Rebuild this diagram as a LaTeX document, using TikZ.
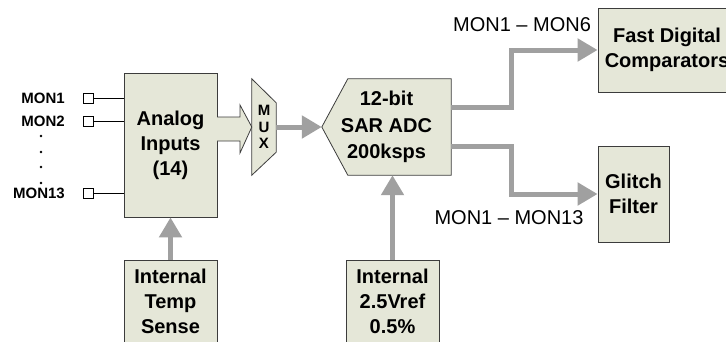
\documentclass[tikz,border=0pt]{standalone}
\usepackage{fontspec}
\setmainfont{Liberation Sans}
\usetikzlibrary{arrows.meta}
\definecolor{boxfill}{RGB}{229,231,216}
\definecolor{boxline}{RGB}{60,60,60}
\definecolor{flowgray}{RGB}{160,160,160}
\begin{document}
\begin{tikzpicture}[x=1pt,y=-1pt,
        blocco/.style={draw=boxline,line width=0.8pt,fill=boxfill,align=center,
            font=\fontsize{20}{25}\selectfont\bfseries,inner sep=0pt},
        flusso/.style={draw=flowgray,line width=5pt,-{Triangle[length=20pt,width=22pt]}},
        pinbox/.style={draw=black,fill=white,line width=0.8pt,minimum size=10pt,inner sep=0pt},
        pinlbl/.style={font=\fontsize{15}{15}\selectfont\bfseries,anchor=east,inner sep=0pt},
        rangelbl/.style={font=\fontsize{20}{20}\selectfont,inner sep=0pt}]
    \useasboundingbox (0,0) rectangle (726,341);
    % Blocchi principali
    \node[blocco,minimum width=93pt,minimum height=144pt] (ain) at (170.5,145) {Analog\\Inputs\\(14)};
    \node[blocco,minimum width=93pt,minimum height=82pt] (tmp) at (170.5,301) {Internal\\Temp\\Sense};
    \node[blocco,minimum width=93pt,minimum height=82pt] (vref) at (392.5,301) {Internal\\2.5Vref\\0.5\%};
    \node[blocco,minimum width=138pt,minimum height=84pt] (fdc) at (667,50) {Fast Digital\\Comparators};
    \node[blocco,minimum width=71pt,minimum height=96pt] (glf) at (633.5,194) {Glitch\\Filter};
    % MUX (trapezio)
    \node[minimum width=24pt,minimum height=96pt,inner sep=0pt] (mux) at (264,127) {};
    \draw[draw=boxline,line width=0.8pt,fill=boxfill] (mux.north west) -- ([yshift=-24pt]mux.north east)
        -- ([yshift=23pt]mux.south east) -- (mux.south west) -- cycle;
    \node[font=\fontsize{15}{16.5}\selectfont\bfseries,align=center,inner sep=0pt] (muxlbl) at (mux) {M\\U\\X};
    % ADC (pentagono)
    \node[minimum width=129pt,minimum height=96pt,inner sep=0pt] (adc) at (386.5,127) {};
    \draw[draw=boxline,line width=0.8pt,fill=boxfill] ([xshift=26pt]adc.north west) -- (adc.north east)
        -- (adc.south east) -- ([xshift=26pt]adc.south west) -- (adc.west) -- cycle;
    \node[align=center,font=\fontsize{20}{26.5}\selectfont\bfseries,inner sep=0pt] (adclbl) at (adc) {12-bit\\SAR ADC\\200ksps};
    % Freccia vuota verso il MUX
    \draw[draw=boxline,line width=0.8pt,fill=boxfill] (217,117) -- (240,117) -- (240,105)
        -- (mux.west) -- (240,153) -- (240,141) -- (217,141);
    % Ingressi MON
    \node[pinbox] (p1) at (88.5,98) {};
    \node[pinbox] (p2) at (88.5,121) {};
    \node[pinbox] (p13) at (88.5,193) {};
    \foreach \p in {p1,p2,p13}
        \draw[line width=0.8pt] (\p.east) -- (\p.east -| ain.west);
    \node[pinlbl] (l1) at (65,98) {MON1};
    \node[pinlbl] (l2) at (65,121) {MON2};
    \node[pinlbl] (l13) at (65,193) {MON13};
    \foreach \y in {136,152,167,183}
        \fill (41,\y) circle (1.3pt);
    % Frecce grigie
    \draw[flusso] (mux.east) -- (adc.west);
    \draw[flusso] (tmp.north) -- (ain.south);
    \draw[flusso] (vref.north) -- (vref.north |- adc.south);
    \coordinate (adcout1) at (451,107);
    \coordinate (adcout2) at (451,146);
    \draw[flusso] (adcout1) -- ++(60,0) |- (fdc.west);
    \draw[flusso] (adcout2) -- ++(60,0) |- (glf.west);
    % Etichette dei canali
    \node[rangelbl] (r6) at (522,25) {MON1 -- MON6};
    \node[rangelbl] (r13) at (509,218) {MON1 -- MON13};
\end{tikzpicture}
\end{document}
